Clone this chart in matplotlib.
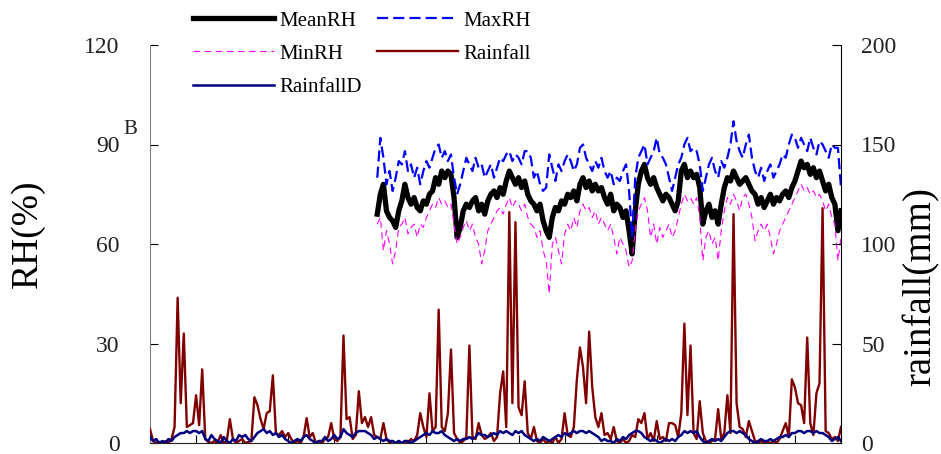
import numpy as np
from matplotlib import pyplot as plt

plt.rcParams['font.family'] = ['Liberation Serif', 'DejaVu Serif']

# one value every 2 days, 0..450
days = np.arange(0, 452, 2)
rhStart = 74  # RH record begins at day 148

rainfall = [7, 1, 0, 0.5, 0, 1, 0, 2, 8, 73,
            20, 55, 8, 9, 10, 24, 9, 37, 2, 0.5,
            0, 1, 0, 4, 0, 1, 12, 2, 0, 1,
            2, 0, 0.5, 1, 23, 19, 12, 7, 15, 16,
            34, 5, 4, 6, 3, 5, 2, 0, 1, 0,
            3, 12.5, 3, 5, 0, 1, 0, 2, 3, 10,
            2, 1, 3, 54, 12, 13, 2, 4, 26, 10,
            13, 8, 13, 4, 3, 2, 10, 2, 0, 1,
            0, 1, 0, 1, 0, 2, 1, 4, 15, 8,
            3, 25, 6, 8, 67, 8, 6, 15, 47, 5,
            2, 0, 1, 3, 49, 3, 2, 10, 4, 2,
            3, 5, 1, 3, 25, 36, 8, 116, 20, 111,
            18, 14, 31, 5, 2, 8, 1, 0, 2, 0,
            1, 0, 3, 0, 2, 15, 4, 3, 8, 32,
            48, 38, 20, 56, 28, 13, 8, 15, 4, 5,
            2, 8, 1, 0, 2, 0, 1, 4, 3, 12,
            10, 15, 2, 5, 1, 11, 2, 3, 1, 10,
            10, 9, 3, 15, 60, 14, 49, 5, 2, 21,
            5, 1, 0, 1, 2, 17, 2, 5, 24, 5,
            115, 20, 8, 7, 3, 11, 6, 1, 0, 1,
            0, 0.5, 0, 1, 0, 2, 6, 10, 3, 32,
            28, 20, 19, 10, 53, 10, 4, 25, 30, 118,
            6, 5, 2, 3, 1, 8]

rainfallD = [3, 1, 2, 0, 1, 0, 2, 1, 3, 4,
             5, 5, 6, 5, 6, 6, 5, 6, 2, 1,
             4, 2, 1, 0, 3, 1, 0, 2, 1, 4,
             3, 4, 2, 1, 3, 5, 6, 7, 5, 6,
             4, 5, 3, 4, 2, 1, 0, 1, 2, 1,
             3, 4, 2, 1, 0, 1, 1, 3, 1, 2,
             4, 2, 3, 7, 5, 4, 3, 5, 6, 6,
             6, 5, 4, 2, 3, 2, 1, 2, 1, 1,
             0, 1, 0, 1, 1, 0, 1, 2, 3, 4,
             5, 4, 6, 5, 5, 6, 4, 3, 2, 1,
             2, 1, 2, 2, 3, 2, 3, 5, 4, 4,
             3, 4, 5, 4, 6, 5, 6, 5, 4, 6,
             5, 6, 4, 3, 2, 1, 2, 1, 3, 2,
             1, 2, 3, 4, 3, 5, 4, 5, 6, 5,
             6, 6, 5, 6, 5, 4, 3, 1, 2, 1,
             1, 0, 2, 1, 3, 2, 4, 5, 6, 6,
             5, 3, 2, 1, 2, 1, 0, 1, 2, 1,
             2, 1, 3, 4, 6, 5, 6, 5, 6, 3,
             1, 0, 1, 2, 1, 2, 1, 3, 5, 6,
             6, 5, 6, 5, 4, 2, 1, 0, 1, 2,
             1, 1, 2, 1, 2, 3, 3, 4, 3, 5,
             5, 6, 6, 5, 6, 6, 5, 6, 5, 5,
             4, 3, 1, 2, 3, 1]

meanRH = [69, 75, 78, 70, 68, 67, 65, 70, 73, 78,
          74, 72, 74, 71, 70, 73, 72, 75, 76, 80,
          78, 82, 80, 82, 81, 74, 62, 65, 70, 72,
          71, 73, 74, 70, 72, 69, 73, 75, 76, 74,
          77, 75, 79, 82, 80, 78, 80, 77, 79, 75,
          73, 72, 70, 72, 67, 64, 62, 68, 71, 70,
          73, 72, 75, 74, 76, 73, 78, 80, 77, 79,
          76, 78, 76, 77, 74, 72, 75, 70, 72, 71,
          68, 70, 64, 57, 70, 78, 82, 84, 80, 78,
          80, 77, 75, 73, 75, 74, 72, 70, 73, 82,
          84, 80, 82, 80, 81, 77, 66, 70, 72, 68,
          70, 66, 72, 77, 80, 79, 82, 80, 78, 79,
          80, 78, 76, 75, 72, 74, 71, 73, 75, 72,
          74, 73, 75, 76, 74, 77, 79, 82, 85, 83,
          84, 81, 83, 80, 82, 79, 76, 78, 74, 72,
          64, 70]

maxRH = [80, 92, 86, 78, 82, 76, 80, 85, 84, 88,
         82, 84, 80, 83, 78, 82, 85, 83, 86, 89,
         90, 86, 88, 85, 87, 80, 75, 78, 82, 86,
         84, 82, 86, 83, 84, 80, 82, 84, 80, 83,
         86, 85, 87, 88, 85, 87, 86, 84, 88, 88,
         86, 80, 82, 78, 76, 77, 87, 83, 79, 84,
         82, 85, 87, 85, 82, 84, 89, 90, 86, 84,
         82, 85, 83, 86, 82, 80, 82, 78, 80, 79,
         82, 84, 76, 62, 80, 86, 88, 90, 84, 86,
         88, 92, 87, 86, 84, 80, 76, 80, 84, 86,
         90, 92, 88, 89, 88, 84, 76, 80, 84, 86,
         82, 80, 85, 83, 86, 90, 97, 91, 88, 86,
         90, 93, 86, 82, 80, 83, 79, 82, 84, 80,
         82, 84, 87, 86, 90, 93, 92, 89, 92, 90,
         88, 92, 89, 87, 91, 90, 88, 86, 90, 89,
         89, 77]

minRH = [66, 68, 58, 64, 60, 54, 58, 65, 66, 68,
         63, 65, 66, 62, 66, 65, 68, 70, 72, 71,
         74, 72, 73, 71, 72, 66, 60, 62, 65, 67,
         64, 66, 62, 60, 54, 58, 64, 66, 68, 70,
         71, 69, 72, 74, 71, 73, 72, 70, 72, 68,
         66, 65, 62, 64, 58, 55, 45, 60, 62, 58,
         54, 63, 66, 64, 68, 65, 70, 72, 70, 71,
         68, 70, 66, 68, 66, 64, 66, 62, 57, 62,
         60, 58, 53, 55, 64, 70, 72, 74, 70, 62,
         66, 60, 65, 62, 64, 66, 62, 64, 68, 72,
         75, 73, 74, 72, 74, 68, 55, 62, 64, 60,
         62, 55, 64, 70, 74, 72, 75, 73, 70, 74,
         75, 72, 68, 61, 64, 66, 64, 66, 62, 57,
         60, 64, 66, 68, 70, 72, 74, 76, 78, 76,
         77, 75, 76, 74, 75, 73, 70, 72, 68, 66,
         55, 62]

fig = plt.figure(figsize=(9.41, 4.54), dpi=100)
ax = fig.add_axes([150 / 941, 11 / 454, 691 / 941, 398 / 454])

lineMean, = ax.plot(days[rhStart:rhStart + len(meanRH)], meanRH, color='black', lw=3.8, label='MeanRH')
lineMax, = ax.plot(days[rhStart:rhStart + len(maxRH)], maxRH, color='#0000FF', lw=1.6,
                   dashes=(5, 2.3), label='MaxRH')
lineMin, = ax.plot(days[rhStart:rhStart + len(minRH)], minRH, color='#FF00FF', lw=0.8,
                   dashes=(6, 4), label='MinRH')

ax2 = ax.twinx()
lineRain, = ax2.plot(days[:len(rainfall)], rainfall, color='#800000', lw=1.7, label='Rainfall')
lineRainD, = ax2.plot(days[:len(rainfallD)], rainfallD, color='#000080', lw=1.8, label='RainfallD')

ax.set_xlim(0, 450)
ax.set_ylim(0, 120)
ax2.set_ylim(0, 200)
ax.set_xticks(np.arange(0, 451, 30))
ax.set_yticks([0, 30, 60, 90, 120])
ax2.set_yticks([0, 50, 100, 150, 200])

ax.tick_params(axis='x', direction='in', length=6, labelbottom=False)
ax.tick_params(axis='y', direction='in', length=5.5, pad=22, labelsize=17, labelcolor='#222222')
ax2.tick_params(axis='y', direction='in', length=6.5, pad=14.5, labelsize=17, labelcolor='#222222')

for s in ['top', 'right']:
    ax.spines[s].set_visible(False)
for s in ['top', 'left', 'bottom']:
    ax2.spines[s].set_visible(False)
ax.spines['left'].set_color('#808080')
ax.spines['bottom'].set_color('#222222')
ax2.spines['right'].set_color('black')

fig.text(28 / 941, 1 - 234 / 454, 'RH(%)', rotation=90, ha='center', va='center', fontsize=27)
fig.text(921 / 941, 1 - 287 / 454, 'rainfall(mm)', rotation=90, ha='center', va='center', fontsize=28)
fig.text(130 / 941, 1 - 130 / 454, 'B', ha='center', va='center', fontsize=15, color='#222222')

handles = [lineMean, lineMin, lineRainD, lineMax, lineRain]
fig.legend(handles, [h.get_label() for h in handles], loc='upper left',
           bbox_to_anchor=(193 / 941, 1 - 11 / 454), ncol=2, frameon=False, fontsize=15,
           handlelength=3.9, handletextpad=0.25, columnspacing=0.7, labelspacing=0.65,
           borderpad=0, borderaxespad=0)

fig.savefig('out.png', dpi=100)
